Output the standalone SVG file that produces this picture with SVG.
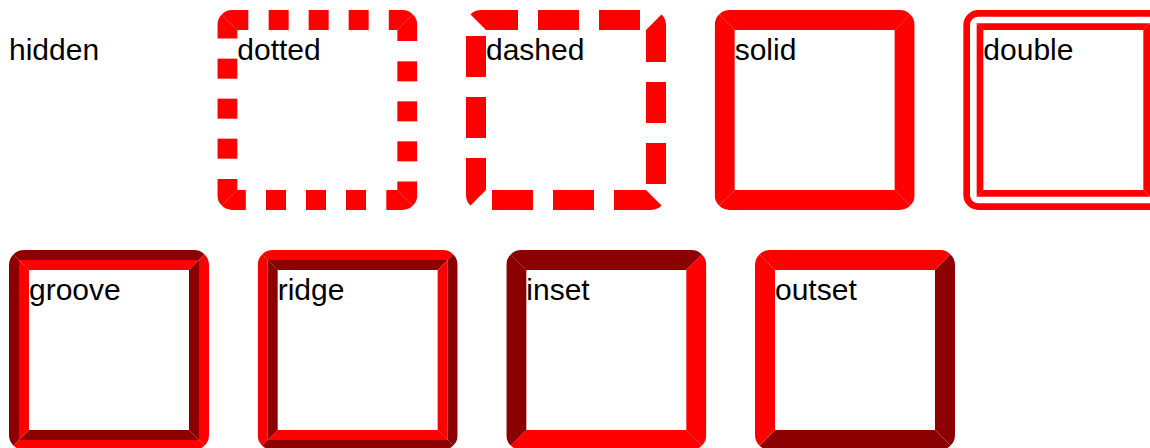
<svg xmlns="http://www.w3.org/2000/svg" xmlns:xlink="http://www.w3.org/1999/xlink" width="1150" height="448" viewBox="0 0 1150 448">
<style>
.r{fill:#ff0000}
.d{fill:#8b0000}
.t{font-family:"Liberation Sans",Arial,sans-serif;font-size:30px;fill:#000000}
</style>
<defs>
<clipPath id="rr"><rect x="0" y="0" width="200" height="200" rx="15" ry="15"/></clipPath>
<path id="full" d="M0,0H200L180,20H20Z"/>
<path id="outer" d="M0,0H200L190,10H10Z"/>
<path id="inner" d="M10,10H190L180,20H20Z"/>
<path id="dblIn" d="M13.33,13.33H186.67L180,20H20Z"/>
<g id="dotEdge">
<path d="M0,0H31V20H20Z"/>
<rect x="51.33" y="0" width="20" height="20"/>
<rect x="91.33" y="0" width="20" height="20"/>
<rect x="131.33" y="0" width="20" height="20"/>
<path d="M171.5,0H200L180,20H171.5Z"/>
</g>
<g id="dashEdge">
<path d="M0,0H52V20H20Z"/>
<rect x="72" y="0" width="41" height="20"/>
<rect x="133" y="0" width="41" height="20"/>
</g>
</defs>

<g id="hidden" transform="translate(9,10)">
<text class="t" x="0" y="49.5">hidden</text>
</g>

<g id="dotted" transform="translate(217.33,10)">
<g clip-path="url(#rr)" class="r">
<use xlink:href="#dotEdge"/>
<use xlink:href="#dotEdge" transform="rotate(90 100 100)"/>
<use xlink:href="#dotEdge" transform="rotate(180 100 100)"/>
<use xlink:href="#dotEdge" transform="rotate(270 100 100)"/>
</g>
<text class="t" x="20" y="49.5">dotted</text>
</g>

<g id="dashed" transform="translate(466,10)">
<g clip-path="url(#rr)" class="r">
<use xlink:href="#dashEdge"/>
<use xlink:href="#dashEdge" transform="rotate(90 100 100)"/>
<use xlink:href="#dashEdge" transform="rotate(180 100 100)"/>
<use xlink:href="#dashEdge" transform="rotate(270 100 100)"/>
</g>
<text class="t" x="20" y="49.5">dashed</text>
</g>

<g id="solid" transform="translate(714.67,10)">
<g clip-path="url(#rr)" class="r">
<use xlink:href="#full"/>
<use xlink:href="#full" transform="rotate(90 100 100)"/>
<use xlink:href="#full" transform="rotate(180 100 100)"/>
<use xlink:href="#full" transform="rotate(270 100 100)"/>
</g>
<text class="t" x="20" y="49.5">solid</text>
</g>

<g id="double" transform="translate(963.33,10)">
<path class="r" fill-rule="evenodd" d="M15,0H185A15,15 0 0 1 200,15V185A15,15 0 0 1 185,200H15A15,15 0 0 1 0,185V15A15,15 0 0 1 15,0Z M15,6.67H185A8.33,8.33 0 0 1 193.33,15V185A8.33,8.33 0 0 1 185,193.33H15A8.33,8.33 0 0 1 6.67,185V15A8.33,8.33 0 0 1 15,6.67Z"/>
<g class="r">
<use xlink:href="#dblIn"/>
<use xlink:href="#dblIn" transform="rotate(90 100 100)"/>
<use xlink:href="#dblIn" transform="rotate(180 100 100)"/>
<use xlink:href="#dblIn" transform="rotate(270 100 100)"/>
</g>
<text class="t" x="20" y="49.5">double</text>
</g>

<g id="groove" transform="translate(9,250)">
<g clip-path="url(#rr)">
<use xlink:href="#outer" class="d"/>
<use xlink:href="#inner" class="r"/>
<use xlink:href="#outer" class="r" transform="rotate(90 100 100)"/>
<use xlink:href="#inner" class="d" transform="rotate(90 100 100)"/>
<use xlink:href="#outer" class="r" transform="rotate(180 100 100)"/>
<use xlink:href="#inner" class="d" transform="rotate(180 100 100)"/>
<use xlink:href="#outer" class="d" transform="rotate(270 100 100)"/>
<use xlink:href="#inner" class="r" transform="rotate(270 100 100)"/>
</g>
<text class="t" x="20" y="49.5">groove</text>
</g>

<g id="ridge" transform="translate(257.67,250)">
<g clip-path="url(#rr)">
<use xlink:href="#outer" class="r"/>
<use xlink:href="#inner" class="d"/>
<use xlink:href="#outer" class="d" transform="rotate(90 100 100)"/>
<use xlink:href="#inner" class="r" transform="rotate(90 100 100)"/>
<use xlink:href="#outer" class="d" transform="rotate(180 100 100)"/>
<use xlink:href="#inner" class="r" transform="rotate(180 100 100)"/>
<use xlink:href="#outer" class="r" transform="rotate(270 100 100)"/>
<use xlink:href="#inner" class="d" transform="rotate(270 100 100)"/>
</g>
<text class="t" x="20" y="49.5">ridge</text>
</g>

<g id="inset" transform="translate(506.33,250)">
<g clip-path="url(#rr)">
<use xlink:href="#full" class="d"/>
<use xlink:href="#full" class="r" transform="rotate(90 100 100)"/>
<use xlink:href="#full" class="r" transform="rotate(180 100 100)"/>
<use xlink:href="#full" class="d" transform="rotate(270 100 100)"/>
</g>
<text class="t" x="20" y="49.5">inset</text>
</g>

<g id="outset" transform="translate(755,250)">
<g clip-path="url(#rr)">
<use xlink:href="#full" class="r"/>
<use xlink:href="#full" class="d" transform="rotate(90 100 100)"/>
<use xlink:href="#full" class="d" transform="rotate(180 100 100)"/>
<use xlink:href="#full" class="r" transform="rotate(270 100 100)"/>
</g>
<text class="t" x="20" y="49.5">outset</text>
</g>

<g id="connectors"/>
</svg>
